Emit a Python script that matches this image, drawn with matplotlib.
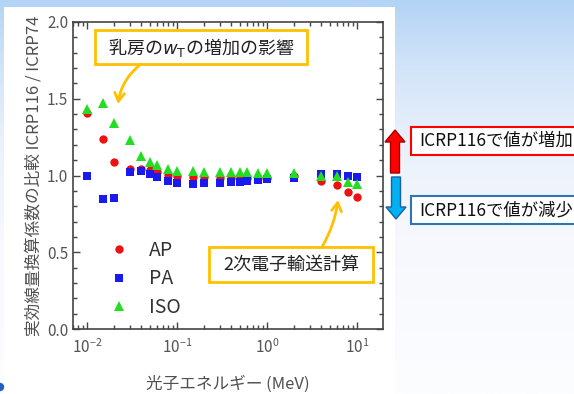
import matplotlib
matplotlib.use("Agg")
import matplotlib.pyplot as plt
import numpy as np
from matplotlib.patches import Rectangle, FancyArrow
from matplotlib.colors import LinearSegmentedColormap
from matplotlib.ticker import LogLocator, MultipleLocator, NullFormatter

plt.rcParams['font.family'] = ['Noto Sans CJK JP', 'DejaVu Sans']

# photon energies (MeV)
energy = [0.01, 0.015, 0.02, 0.03, 0.04, 0.05, 0.06, 0.08, 0.1, 0.15, 0.2,
          0.3, 0.4, 0.5, 0.6, 0.8, 1, 2, 4, 6, 8, 10]
# ratio ICRP116 / ICRP74
ap = [1.41, 1.24, 1.09, 1.045, 1.04, 1.035, 1.025, 1.005, 0.998, 0.99, 0.99,
      0.985, 0.985, 0.985, 0.985, 0.985, 0.985, 1.0, 0.966, 0.937, 0.89, 0.862]
pa = [0.997, 0.845, 0.855, 1.025, 1.03, 1.01, 0.992, 0.966, 0.949, 0.945, 0.95,
      0.952, 0.96, 0.96, 0.965, 0.97, 0.975, 0.982, 1.01, 1.01, 0.997, 0.988]
iso = [1.433, 1.47, 1.34, 1.231, 1.127, 1.09, 1.068, 1.04, 1.031, 1.03, 1.025,
       1.025, 1.02, 1.02, 1.02, 1.015, 1.015, 1.014, 0.997, 0.995, 0.96, 0.945]

W, H = 574, 394
fig = plt.figure(figsize=(W / 100, H / 100), dpi=100)

# slide background
bg = fig.add_axes([0, 0, 1, 1], zorder=-10)
bg.axis('off')
cmap = LinearSegmentedColormap.from_list('slide', [(0, '#b3d4f5'), (0.15, '#cfe2f8'),
                                                   (0.35, '#e9f1fb'), (0.6, '#f6f8fd'),
                                                   (1, '#fcfdff')])
bg.imshow(np.linspace(0, 1, 200)[:, None], cmap=cmap, aspect='auto', extent=(0, W, H, 0))
bg.add_patch(Rectangle((4, 7), 391, H - 7, fc='white', ec='none'))
bg.add_patch(plt.Circle((0, 387), 3.5, color='#1f5fbf'))
bg.set_xlim(0, W)
bg.set_ylim(H, 0)

# main chart
ax = fig.add_axes([73 / W, 65 / H, 310 / W, 307 / H])
ax.plot(energy, ap, 'o', color='#ee1111', ms=6, mew=0, label='AP')
ax.plot(energy, pa, 's', color='#1a1aee', ms=5.5, mew=0, label='PA')
ax.plot(energy, iso, '^', color='#22dd22', ms=7, mew=0, label='ISO')
ax.set_xscale('log')
ax.set_xlim(0.007, 19.5)
ax.set_ylim(0, 2.0)
ax.yaxis.set_major_locator(MultipleLocator(0.5))
ax.yaxis.set_minor_locator(MultipleLocator(0.1))
ax.xaxis.set_major_locator(LogLocator(base=10))
ax.xaxis.set_minor_locator(LogLocator(base=10, subs=np.arange(2, 10)))
ax.xaxis.set_minor_formatter(NullFormatter())
ax.yaxis.set_major_formatter(matplotlib.ticker.FormatStrFormatter('%.1f'))
ax.tick_params(which='both', direction='in', top=True, right=True, color='#444444',
               labelcolor='#555555', labelsize=11)
ax.tick_params(which='major', length=5, width=1)
ax.tick_params(which='minor', length=3, width=1)
ax.tick_params(axis='x', which='major', pad=7)
for s in ax.spines.values():
    s.set_color('#444444')
    s.set_linewidth(1.2)
ax.set_xlabel('光子エネルギー (MeV)', fontsize=12, color='#505050', labelpad=13)
ax.set_ylabel('実効線量換算係数の比較 ICRP116 / ICRP74', fontsize=12, color='#505050',
              labelpad=3)
ax.legend(loc='upper left', bbox_to_anchor=(0.066, 0.31), frameon=False, fontsize=14,
          handletextpad=0.55, labelspacing=0.4, borderaxespad=0, borderpad=0.3,
          labelcolor='#333333')

# overlay in pixel coordinates
ov = fig.add_axes([0, 0, 1, 1], zorder=5)
ov.axis('off')
ov.set_xlim(0, W)
ov.set_ylim(H, 0)
ov.patch.set_alpha(0)

orange = '#ffc000'
ov.add_patch(Rectangle((95, 30), 212, 34, fc='white', ec=orange, lw=2))
ov.text(201, 47, '乳房の$w_\\mathrm{T}$の増加の影響', fontsize=13, ha='center', va='center',
        color='#222222')
ov.annotate('', xy=(118, 104), xytext=(141, 64),
            arrowprops=dict(arrowstyle='->,head_length=0.6,head_width=0.35', color=orange,
                            lw=2, shrinkA=0, shrinkB=0, connectionstyle='arc3,rad=0.2'))

ov.add_patch(Rectangle((209, 247), 164, 35, fc='white', ec=orange, lw=2))
ov.text(291, 265, '2次電子輸送計算', fontsize=13, ha='center', va='center', color='#222222')
ov.annotate('', xy=(338, 200), xytext=(322, 247),
            arrowprops=dict(arrowstyle='->,head_length=0.6,head_width=0.35', color=orange,
                            lw=2, shrinkA=0, shrinkB=0, connectionstyle='arc3,rad=0.1'))

# right-hand notes
ov.add_patch(FancyArrow(395, 173, 0, -43, width=9, head_width=20, head_length=12,
                        length_includes_head=True, fc='#ff0000', ec='#a00000', lw=1))
ov.add_patch(FancyArrow(396, 177, 0, 42, width=9, head_width=20, head_length=12,
                        length_includes_head=True, fc='#00b0f0', ec='#1f5f9f', lw=1))
ov.add_patch(Rectangle((411, 127), 180, 28, fc='white', ec='#ff0000', lw=1.5, clip_on=False))
ov.text(419, 141, 'ICRP116で値が増加', fontsize=12.5, ha='left', va='center', color='#111111')
ov.add_patch(Rectangle((411, 196), 180, 28, fc='white', ec='#2e75b6', lw=1.5, clip_on=False))
ov.text(419, 210, 'ICRP116で値が減少', fontsize=12.5, ha='left', va='center', color='#111111')

fig.savefig('out.png', dpi=100)
